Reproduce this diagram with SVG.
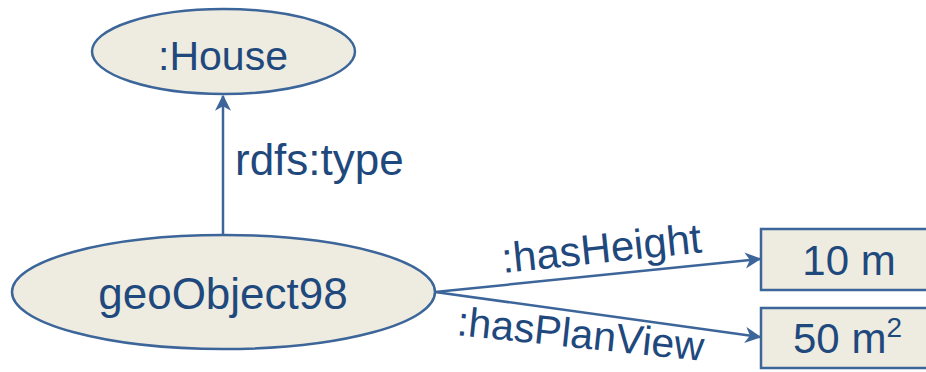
<svg xmlns="http://www.w3.org/2000/svg" width="926" height="372" viewBox="0 0 926 372">
<style>
.shape{fill:#eeece1;stroke:#3c6599;stroke-width:2.5}
.t{font-family:"Liberation Sans",Arial,sans-serif;fill:#1f497d}
.edge{stroke:#3c6599;stroke-width:2.5;fill:none;marker-end:url(#ah)}
</style>
<defs>
<marker id="ah" viewBox="0 0 12 12" refX="11" refY="6" markerWidth="6.5" markerHeight="6.5" markerUnits="strokeWidth" orient="auto">
<path d="M0,0 L12,6 L0,12 L3.5,6 Z" fill="#3c6599"/>
</marker>
</defs>
<rect width="926" height="372" fill="#ffffff"/>
<g id="connectors">
<line class="edge" x1="223" y1="235" x2="223" y2="96"/>
<line class="edge" x1="435" y1="292" x2="760" y2="259"/>
<line class="edge" x1="435" y1="292" x2="760" y2="337"/>
<text class="t" x="235" y="175" font-size="44">rdfs:type</text>
<text class="t" x="503" y="273" font-size="42" transform="rotate(-5.9 503 273)">:hasHeight</text>
<text class="t" x="456" y="335" font-size="41" transform="rotate(6 456 335)">:hasPlanView</text>
</g>
<g id="house">
<ellipse class="shape" cx="223.5" cy="51.5" rx="131.5" ry="42.5"/>
<text class="t" x="223" y="70" font-size="41" text-anchor="middle">:House</text>
</g>
<g id="geoObject98">
<ellipse class="shape" cx="223.5" cy="292" rx="211.5" ry="57"/>
<text class="t" x="223" y="309" font-size="44" text-anchor="middle">geoObject98</text>
</g>
<g id="height">
<rect class="shape" x="761" y="229" width="170" height="61"/>
<text class="t" x="849" y="275" font-size="42" text-anchor="middle">10 m</text>
</g>
<g id="planview">
<rect class="shape" x="761" y="308" width="170" height="60"/>
<text class="t" x="793" y="353" font-size="42">50 m<tspan dy="-16" font-size="28">2</tspan></text>
</g>
</svg>
